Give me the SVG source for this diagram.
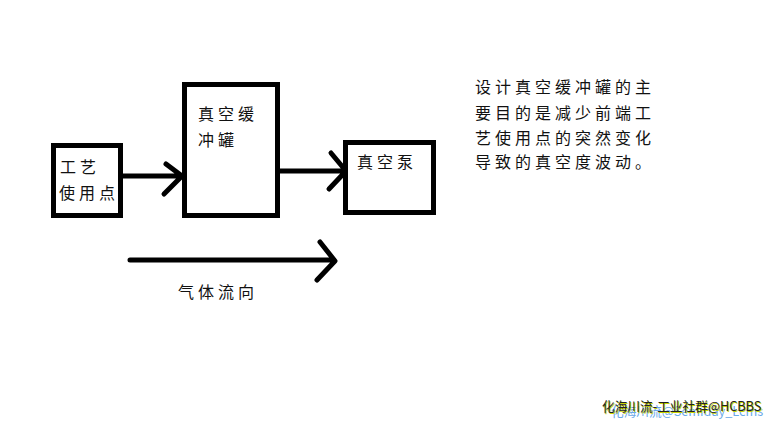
<svg xmlns="http://www.w3.org/2000/svg" width="770" height="422" viewBox="0 0 770 422">
<style>
.box{fill:#fff;stroke:#000;stroke-width:5}
.ln{fill:none;stroke:#000;stroke-width:5;stroke-linecap:round;stroke-linejoin:round}
text{font-family:"Noto Sans CJK SC","Noto Sans CJK JP",sans-serif;font-size:16px;letter-spacing:4px;fill:#111}
.wm{font-size:12.7px;letter-spacing:0}
</style>
<rect width="770" height="422" fill="#fff"/>
<g id="connectors">
<path class="ln" d="M123 176H181M166 164L182 176L164 194"/>
<path class="ln" d="M279 171H344M331 153L346 171L329 189"/>
<path class="ln" d="M130 260H333M320 242L335 261L317 280"/>
</g>
<g id="node-process"><rect class="box" x="53.5" y="145.5" width="67" height="70"/>
<text x="60" y="173">工艺</text><text x="59" y="199">使用点</text></g>
<g id="node-tank"><rect class="box" x="184.5" y="84.5" width="93" height="131"/>
<text x="198" y="120">真空缓</text><text x="198" y="146">冲罐</text></g>
<g id="node-pump"><rect class="box" x="345.5" y="142.5" width="88" height="70"/>
<text x="357" y="168">真空泵</text></g>
<g id="note"><text x="475" y="93">设计真空缓冲罐的主</text>
<text x="475" y="119">要目的是减少前端工</text>
<text x="475" y="144">艺使用点的突然变化</text>
<text x="475" y="168">导致的真空度波动。</text></g>
<text id="flow-label" x="178" y="298">气体流向</text>
<g id="watermark">
<text class="wm" x="611" y="416" style="fill:#6aa9e8">化海川流@Semiday_Lcms</text>
<text class="wm" x="603" y="412" style="fill:#c8d400">化海川流-工业社群@HCBBS</text>
<text class="wm" x="602" y="411" style="fill:#222">化海川流-工业社群@HCBBS</text>
</g>
</svg>
